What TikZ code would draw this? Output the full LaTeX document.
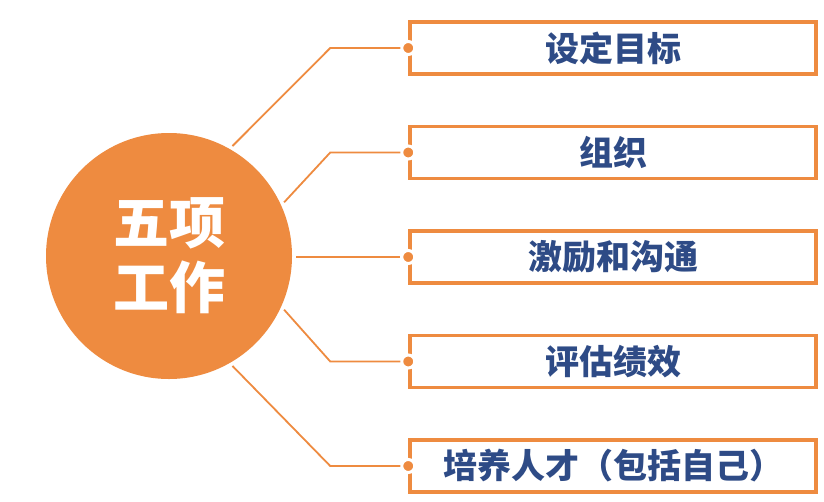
\documentclass[tikz,border=0pt]{standalone}
\usepackage{fontspec}
\newfontfamily\cjk[BoldFont={Noto Sans CJK SC Black}]{Noto Sans CJK SC}
\usetikzlibrary{positioning}
\definecolor{workorange}{HTML}{EE8B40}
\definecolor{workblue}{HTML}{2E4B86}
\begin{document}
\begin{tikzpicture}[x=1pt, y=-1pt, font=\cjk\bfseries]

% Styles
\tikzstyle{core} = [circle, fill=workorange, text=white, minimum size=246pt, outer sep=4pt, align=center, font=\cjk\bfseries\fontsize{56pt}{65pt}\selectfont]
\tikzstyle{item} = [draw=workorange, line width=3.5pt, rectangle, minimum width=406pt, minimum height=52pt, text=workblue, font=\cjk\bfseries\fontsize{34pt}{38pt}\selectfont]
\tikzstyle{dot} = [circle, fill=workorange, draw=white, line width=3pt, minimum size=13pt, inner sep=0pt]
\tikzstyle{link} = [draw=workorange, line width=1.8pt]

\useasboundingbox[fill=white] (0,0) rectangle (824,501);

% Nodes
\node[core] (core) at (169,256) {五项\\工作};
\node[item] (goal) at (613,48) {设定目标};
\node[item, below=49pt of goal] (org) {组织};
\node[item, below=49pt of org] (motiv) {激励和沟通};
\node[item, below=49pt of motiv] (eval) {评估绩效};
\node[item, below=49pt of eval] (talent) {培养人才（包括自己）};

% Dots on the boxes
\node[dot] (d1) at (goal.west) {};
\node[dot] (d2) at (org.west) {};
\node[dot] (d3) at (motiv.west) {};
\node[dot] (d4) at (eval.west) {};
\node[dot] (d5) at (talent.west) {};

% Bends
\path (d1) ++(-78,0) coordinate (k1);
\path (d2) ++(-78,0) coordinate (k2);
\path (d4) ++(-78,0) coordinate (k4);
\path (d5) ++(-78,0) coordinate (k5);

% Connections
\draw[link] (core.60) -- (k1) -- (d1);
\draw[link] (core.25) -- (k2) -- (d2);
\draw[link] (core.east |- d3) -- (d3);
\draw[link] (core.-25) -- (k4) -- (d4);
\draw[link] (core.-60) -- (k5) -- (d5);

\end{tikzpicture}
\end{document}
